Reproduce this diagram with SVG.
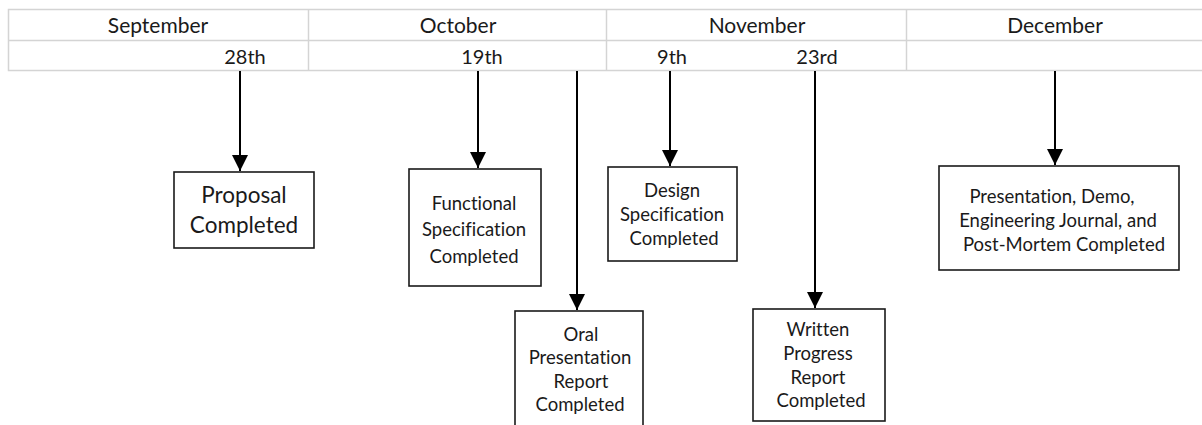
<svg xmlns="http://www.w3.org/2000/svg" width="1202" height="425" viewBox="0 0 1202 425">
<style>
text{font-family:Lato,"Liberation Sans",sans-serif;fill:#1a1a1a;text-anchor:middle;font-variant-ligatures:none}
.m{font-size:21px}
.d{font-size:20px}
.t{font-size:18.5px}
.grid{stroke:#d4d4d4;stroke-width:1.5;fill:none}
.box{fill:#fff;stroke:#1a1a1a;stroke-width:1.6}
.c{stroke:#000;stroke-width:2;fill:none;marker-end:url(#ah)}
</style>
<defs>
<marker id="ah" viewBox="0 0 10 10" refX="10" refY="5" markerWidth="8" markerHeight="8" markerUnits="strokeWidth" orient="auto">
<path d="M0,0 L10,5 L0,10 z" fill="#000"/>
</marker>
</defs>
<rect width="1202" height="425" fill="#fff"/>
<g id="table">
<rect class="grid" x="8.5" y="9.5" width="1200" height="61"/>
<line class="grid" x1="8" y1="40.5" x2="1202" y2="40.5"/>
<line class="grid" x1="308.5" y1="9" x2="308.5" y2="71"/>
<line class="grid" x1="606.5" y1="9" x2="606.5" y2="71"/>
<line class="grid" x1="906.5" y1="9" x2="906.5" y2="71"/>
<text class="m" x="158" y="33">September</text>
<text class="m" x="458" y="33">October</text>
<text class="m" x="757" y="33">November</text>
<text class="m" x="1055" y="33">December</text>
<text class="d" x="245" y="64">28th</text>
<text class="d" x="482" y="64">19th</text>
<text class="d" x="672" y="64">9th</text>
<text class="d" x="817" y="64">23rd</text>
</g>
<g id="connectors">
<line class="c" x1="240" y1="71" x2="240" y2="171"/>
<line class="c" x1="478" y1="71" x2="478" y2="168"/>
<line class="c" x1="577" y1="71" x2="577" y2="310"/>
<line class="c" x1="670" y1="71" x2="670" y2="166"/>
<line class="c" x1="815" y1="71" x2="815" y2="308"/>
<line class="c" x1="1055" y1="71" x2="1055" y2="165"/>
</g>
<g id="proposal">
<rect class="box" x="174" y="172" width="140" height="76"/>
<text x="244" y="203" style="font-size:22.5px">Proposal</text>
<text x="244" y="233" style="font-size:22.5px">Completed</text>
</g>
<g id="functional">
<rect class="box" x="409" y="169" width="132" height="117"/>
<text class="t" x="474" y="210">Functional</text>
<text class="t" x="474" y="236">Specification</text>
<text class="t" x="474" y="263">Completed</text>
</g>
<g id="oral">
<rect class="box" x="515" y="311" width="128" height="120"/>
<text class="t" x="581" y="341">Oral</text>
<text class="t" x="580" y="364">Presentation</text>
<text class="t" x="581" y="388">Report</text>
<text class="t" x="580" y="411">Completed</text>
</g>
<g id="design">
<rect class="box" x="608" y="167" width="129" height="94"/>
<text class="t" x="672" y="197">Design</text>
<text class="t" x="672" y="221">Specification</text>
<text class="t" x="674" y="245">Completed</text>
</g>
<g id="written">
<rect class="box" x="753" y="309" width="132" height="112"/>
<text class="t" x="818" y="336">Written</text>
<text class="t" x="818" y="360">Progress</text>
<text class="t" x="818" y="384">Report</text>
<text class="t" x="821" y="407">Completed</text>
</g>
<g id="final">
<rect class="box" x="939" y="166" width="240" height="104"/>
<text class="t" x="1052" y="203">Presentation, Demo,</text>
<text class="t" x="1058" y="227">Engineering Journal, and</text>
<text class="t" x="1064" y="251">Post-Mortem Completed</text>
</g>
</svg>
